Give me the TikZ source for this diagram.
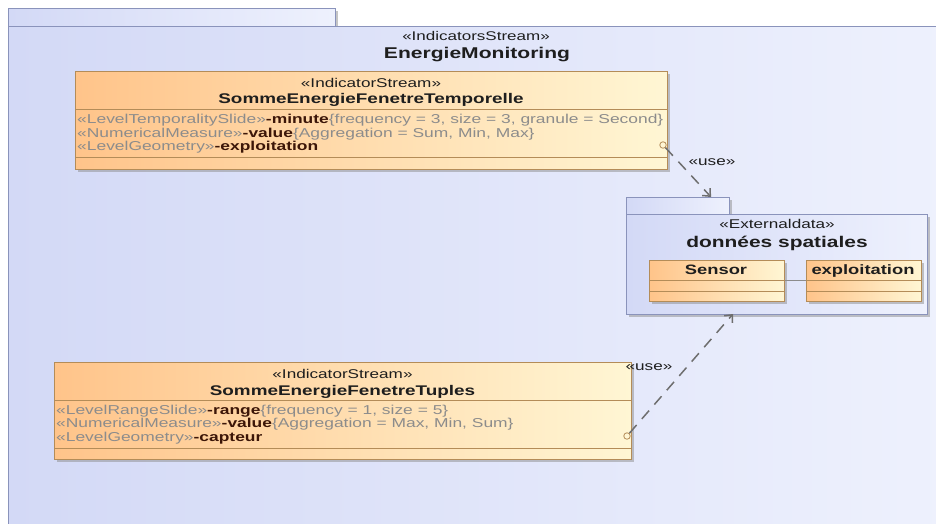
\documentclass[tikz,border=0pt]{standalone}
\usepackage{fontspec}
\setmainfont{Liberation Sans}[FakeStretch=1.35]
\usetikzlibrary{positioning, arrows.meta, shadows, calc}
\definecolor{pkgleft}{HTML}{D3D9F6}
\definecolor{pkgright}{HTML}{EEF1FD}
\definecolor{pkgline}{HTML}{8A93BB}
\definecolor{clsleft}{HTML}{FFC48A}
\definecolor{clsright}{HTML}{FFF6D4}
\definecolor{clsline}{HTML}{B48C58}
\definecolor{stgrey}{HTML}{8C8C8C}
\definecolor{attrink}{HTML}{3C1608}
\definecolor{depgrey}{HTML}{6E6E6E}
\definecolor{ink}{HTML}{1E1E1E}
\newcommand\attnm[1]{{\color{attrink}\bfseries #1}}

\begin{document}
\begin{tikzpicture}[x=1pt, y=-1pt,
    boxshadow/.style={drop shadow={shadow xshift=2.5pt, shadow yshift=-2.5pt,
                      fill=black!45, opacity=.5}},
    pkg/.style={draw=pkgline, line width=1pt, left color=pkgleft,
                right color=pkgright, boxshadow, inner sep=0pt, anchor=north west},
    cls/.style={draw=clsline, line width=1pt, left color=clsleft,
                right color=clsright, boxshadow, inner sep=0pt, anchor=north west},
    sep/.style={draw=clsline, line width=.9pt},
    stereo/.style={font=\fontsize{12.7}{14}\selectfont, text=ink, inner sep=0pt,
                   text height=9pt, text depth=0pt},
    title/.style={font=\fontsize{14}{16}\selectfont\bfseries, text=ink,
                  inner sep=0pt, text height=10pt, text depth=0pt},
    pkgtitle/.style={font=\fontsize{15.6}{18}\selectfont\bfseries, text=ink,
                     inner sep=0pt, text height=11pt, text depth=0pt},
    attr/.style={font=\fontsize{12.9}{14}\selectfont, text=stgrey, anchor=west,
                 inner sep=0pt, text height=9pt, text depth=0pt},
    port/.style={circle, draw=clsline, fill=clsright, inner sep=0pt,
                 minimum size=6.5pt, line width=.8pt},
    dep/.style={draw=depgrey, line width=1.5pt, dash pattern=on 11pt off 8pt,
                -{Straight Barb[length=6pt, width=11pt]}},
    use/.style={font=\fontsize{12.7}{14}\selectfont, text=ink, inner sep=0pt}]
  \useasboundingbox (0,0) rectangle (936,524);
  \fill[white] (0,0) rectangle (936,524);
  \clip (0,0) rectangle (936,524);
  % outer package
  \node[pkg, minimum width=327pt, minimum height=18pt] (monitorTab) at (8,8) {};
  \node[pkg, minimum width=940pt, minimum height=510pt] (monitor) at (8,26) {};
  \node[stereo, font=\fontsize{12.6}{14}\selectfont] (monitorSt) at (476,36) {«IndicatorsStream»};
  \node[pkgtitle] (monitorName) at (477,53) {EnergieMonitoring};
  % class: temporal window
  \node[cls, minimum width=592pt, minimum height=98pt] (temporelle) at (75,71) {};
  \node[stereo] (temporelleSt) at (371,83) {«IndicatorStream»};
  \node[title] (temporelleName) at (371,99) {SommeEnergieFenetreTemporelle};
  \draw[sep] (temporelle.west |- 0,109) -- (temporelle.east |- 0,109);
  \draw[sep] (temporelle.west |- 0,157) -- (temporelle.east |- 0,157);
  \node[attr] (temporelleMin) at (77,119) {«LevelTemporalitySlide»\attnm{-minute}\{frequency = 3, size = 3, granule = Second\}};
  \node[attr] (temporelleVal) at (77,132.5) {«NumericalMeasure»\attnm{-value}\{Aggregation = Sum, Min, Max\}};
  \node[attr] (temporelleGeo) at (77,146) {«LevelGeometry»\attnm{-exploitation}};
  \node[port] (temporellePort) at (663,145) {};
  % class: tuple window
  \node[cls, minimum width=577pt, minimum height=97pt] (tuples) at (54,362) {};
  \node[stereo] (tuplesSt) at (342.5,374) {«IndicatorStream»};
  \node[title] (tuplesName) at (342.5,390) {SommeEnergieFenetreTuples};
  \draw[sep] (tuples.west |- 0,400) -- (tuples.east |- 0,400);
  \draw[sep] (tuples.west |- 0,448) -- (tuples.east |- 0,448);
  \node[attr] (tuplesRange) at (56,409.5) {«LevelRangeSlide»\attnm{-range}\{frequency = 1, size = 5\}};
  \node[attr] (tuplesVal) at (56,423) {«NumericalMeasure»\attnm{-value}\{Aggregation = Max, Min, Sum\}};
  \node[attr] (tuplesGeo) at (56,436.5) {«LevelGeometry»\attnm{-capteur}};
  \node[port] (tuplesPort) at (627,436) {};
  % external data package
  \node[pkg, minimum width=103pt, minimum height=17pt] (spatialTab) at (626,197) {};
  \node[pkg, minimum width=301pt, minimum height=100pt] (spatial) at (626,214) {};
  \node[stereo] (spatialSt) at (777,224) {«Externaldata»};
  \node[pkgtitle, font=\fontsize{15.5}{18}\selectfont\bfseries] (spatialName) at (777,242) {données spatiales};
  \node[cls, minimum width=135pt, minimum height=41pt] (sensor) at (649,260) {};
  \draw[sep] (sensor.west |- 0,280) -- (sensor.east |- 0,280);
  \draw[sep] (sensor.west |- 0,291) -- (sensor.east |- 0,291);
  \node[title, font=\fontsize{13.6}{16}\selectfont\bfseries] (sensorName) at (716,269) {Sensor};
  \node[cls, minimum width=115pt, minimum height=41pt] (exploit) at (806,260) {};
  \draw[sep] (exploit.west |- 0,280) -- (exploit.east |- 0,280);
  \draw[sep] (exploit.west |- 0,291) -- (exploit.east |- 0,291);
  \node[title, font=\fontsize{13.6}{16}\selectfont\bfseries] (exploitName) at (863,269) {exploitation};
  \draw[draw=stgrey, line width=.9pt] (sensor.east |- 0,280) -- (exploit.west |- 0,280);
  % dependencies
  \coordinate (spatialIn1) at (711,197);
  \coordinate (spatialIn2) at (733,314);
  \draw[dep] (temporellePort) -- (spatialIn1);
  \node[use] (useOne) at (712,162) {«use»};
  \draw[dep] (tuplesPort) -- (spatialIn2);
  \node[use] (useTwo) at (649,367) {«use»};
\end{tikzpicture}
\end{document}
